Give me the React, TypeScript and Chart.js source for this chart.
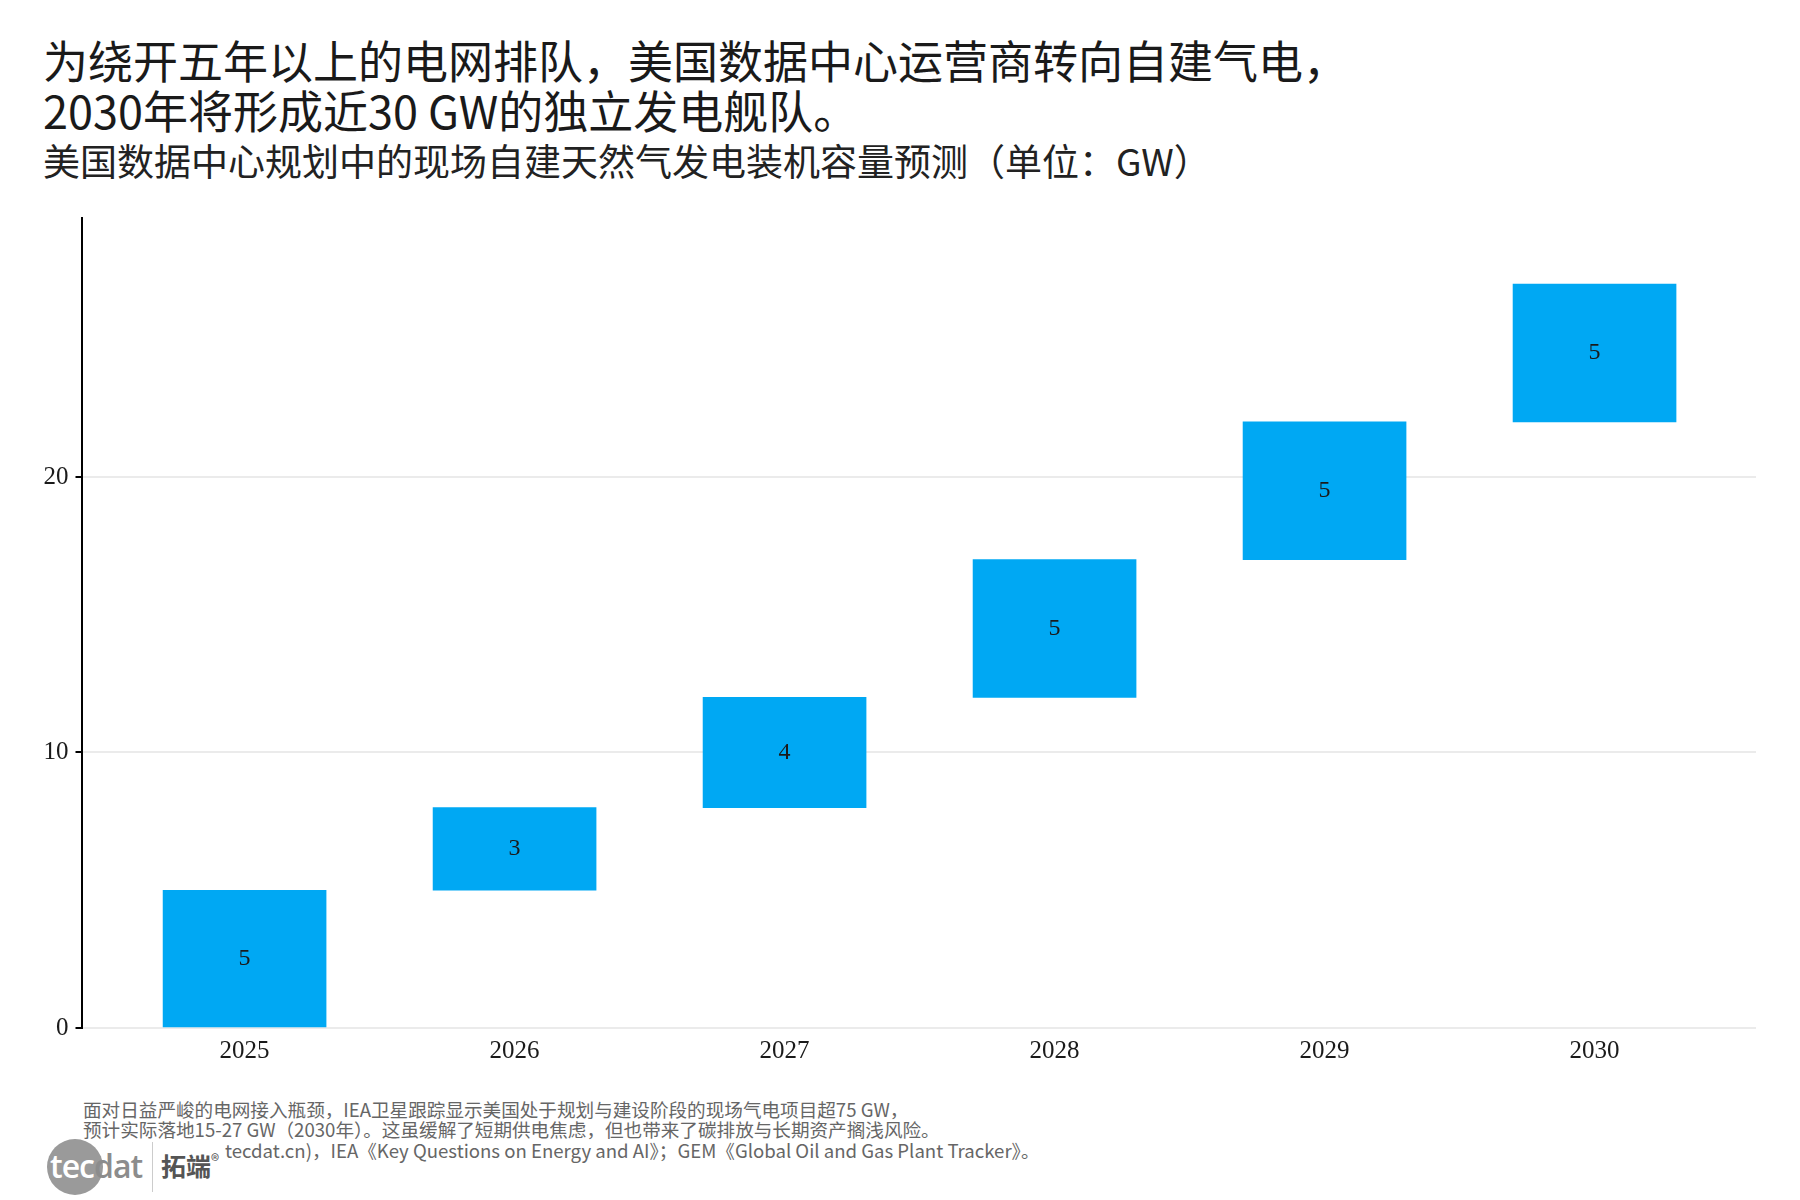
import React, { useEffect, useRef } from "react";
import { Chart, registerables } from "chart.js";

Chart.register(...registerables);

// ---- data ----
const years: string[] = ["2025", "2026", "2027", "2028", "2029", "2030"];
const increments: number[] = [5, 3, 4, 5, 5, 5];
const yTickValues: number[] = [0, 10, 20];
const yMax = 29.4;
const xMin = -0.604;
const xMax = 5.598;

const titleLines: string[] = [
  "为绕开五年以上的电网排队，美国数据中心运营商转向自建气电，",
  "2030年将形成近30 GW的独立发电舰队。",
];
const subtitle = "美国数据中心规划中的现场自建天然气发电装机容量预测（单位：GW）";
const noteLines: string[] = [
  "面对日益严峻的电网接入瓶颈，IEA卫星跟踪显示美国处于规划与建设阶段的现场气电项目超75 GW，",
  "预计实际落地15-27 GW（2030年）。这虽缓解了短期供电焦虑，但也带来了碳排放与长期资产搁浅风险。",
];
const sourceLine = "tecdat.cn)，IEA《Key Questions on Energy and AI》；GEM《Global Oil and Gas Plant Tracker》。";

const BAR_COLOR = "#00A8F3";
const CJK = '"Noto Sans CJK SC", "Noto Sans", sans-serif';
const SERIF = '"Liberation Serif", "DejaVu Serif", serif';

function buildFloating() {
  const out: { x: number; y: [number, number] }[] = [];
  let start = 0;
  increments.forEach((inc, i) => {
    out.push({ x: i, y: [start, start + inc] });
    start += inc;
  });
  return out;
}

const barLabelPlugin = {
  id: "barLabels",
  afterDatasetsDraw(chart: any) {
    const ctx = chart.ctx;
    const meta = chart.getDatasetMeta(0);
    ctx.save();
    ctx.font = `24px ${SERIF}`;
    ctx.fillStyle = "#1a1a1a";
    ctx.textAlign = "center";
    ctx.textBaseline = "middle";
    meta.data.forEach((bar: any, i: number) => {
      const cy = (bar.y + bar.base) / 2;
      ctx.fillText(String(increments[i]), bar.x, cy);
    });
    ctx.restore();
  },
};

export default function App() {
  const canvasRef = useRef<HTMLCanvasElement | null>(null);

  useEffect(() => {
    document.body.style.margin = "0";
    const canvas = canvasRef.current;
    if (!canvas) return;
    const chart = new Chart(canvas, {
      type: "bar",
      data: {
        datasets: [
          {
            data: buildFloating() as any,
            backgroundColor: BAR_COLOR,
            borderWidth: 0,
            barThickness: 163,
          },
        ],
      },
      options: {
        responsive: false,
        animation: false,
        layout: { padding: { top: 20, left: 0, right: 44, bottom: 0 } },
        plugins: {
          legend: { display: false },
          tooltip: { enabled: false },
          title: { display: false },
        },
        scales: {
          x: {
            type: "linear",
            min: xMin,
            max: xMax,
            offset: false,
            afterBuildTicks: (scale: any) => {
              scale.ticks = years.map((_, i) => ({ value: i }));
            },
            afterFit: (scale: any) => {
              scale.height = 48;
            },
            grid: { display: false, drawTicks: false, offset: false },
            border: { display: false },
            ticks: {
              autoSkip: false,
              maxRotation: 0,
              padding: 8,
              color: "#1a1a1a",
              font: { family: SERIF, size: 25 },
              callback: (v: any) => years[Math.round(Number(v))] ?? "",
            },
          },
          y: {
            type: "linear",
            min: 0,
            max: yMax,
            afterBuildTicks: (scale: any) => {
              scale.ticks = yTickValues.map((v) => ({ value: v }));
            },
            afterFit: (scale: any) => {
              scale.width = 81.5;
            },
            grid: {
              color: "#ebebeb",
              lineWidth: 2,
              drawTicks: true,
              tickLength: 6,
              tickColor: "#000",
              tickWidth: 2,
            },
            border: { display: true, color: "#000", width: 2 },
            ticks: {
              padding: 7,
              color: "#1a1a1a",
              font: { family: SERIF, size: 25 },
            },
          },
        },
      },
      plugins: [barLabelPlugin],
    } as any);
    return () => chart.destroy();
  }, []);

  return (
    <div
      style={{
        position: "absolute",
        left: 0,
        top: 0,
        width: 1800,
        height: 1200,
        background: "#fff",
        overflow: "hidden",
        fontFamily: CJK,
      }}
    >
      <div
        style={{
          position: "absolute",
          left: 43,
          top: 35,
          fontSize: 45,
          lineHeight: "50px",
          color: "#1a1a1a",
          whiteSpace: "nowrap",
        }}
      >
        {titleLines.map((l, i) => (
          <div key={i}>{l}</div>
        ))}
      </div>
      <div
        style={{
          position: "absolute",
          left: 43,
          top: 139,
          fontSize: 37,
          lineHeight: "42px",
          color: "#222",
          whiteSpace: "nowrap",
        }}
      >
        {subtitle}
      </div>
      <canvas
        ref={canvasRef}
        width={1800}
        height={880}
        style={{ position: "absolute", left: 0, top: 196, width: 1800, height: 880 }}
      />
      <div
        style={{
          position: "absolute",
          left: 83,
          top: 1099,
          fontSize: 18.6,
          lineHeight: "20px",
          color: "#666",
          whiteSpace: "nowrap",
        }}
      >
        {noteLines.map((l, i) => (
          <div key={i}>{l}</div>
        ))}
      </div>
      <div
        style={{
          position: "absolute",
          left: 225,
          top: 1140,
          fontSize: 18.6,
          lineHeight: "20px",
          color: "#666",
          whiteSpace: "nowrap",
        }}
      >
        {sourceLine}
      </div>
      {/* logo */}
      <div
        style={{
          position: "absolute",
          left: 47,
          top: 1139,
          width: 56,
          height: 56,
          borderRadius: "50%",
          background: "#9a9a9a",
        }}
      />
      <div
        style={{
          position: "absolute",
          left: 50,
          top: 1146,
          fontFamily: '"Open Sans", "DejaVu Sans", sans-serif',
          fontSize: 32,
          fontWeight: 600,
          lineHeight: "40px",
          letterSpacing: -1,
          whiteSpace: "nowrap",
        }}
      >
        <span style={{ color: "#fff" }}>tec</span>
        <span style={{ color: "#8c8c8c" }}>dat</span>
      </div>
      <div
        style={{
          position: "absolute",
          left: 152,
          top: 1142,
          width: 1,
          height: 50,
          background: "#cccccc",
        }}
      />
      <div
        style={{
          position: "absolute",
          left: 161,
          top: 1143,
          fontSize: 25,
          lineHeight: "34px",
          fontWeight: 700,
          color: "#555",
          whiteSpace: "nowrap",
        }}
      >
        拓端<sup style={{ fontSize: 17, fontWeight: 400, verticalAlign: "9px" }}>®</sup>
      </div>
    </div>
  );
}
